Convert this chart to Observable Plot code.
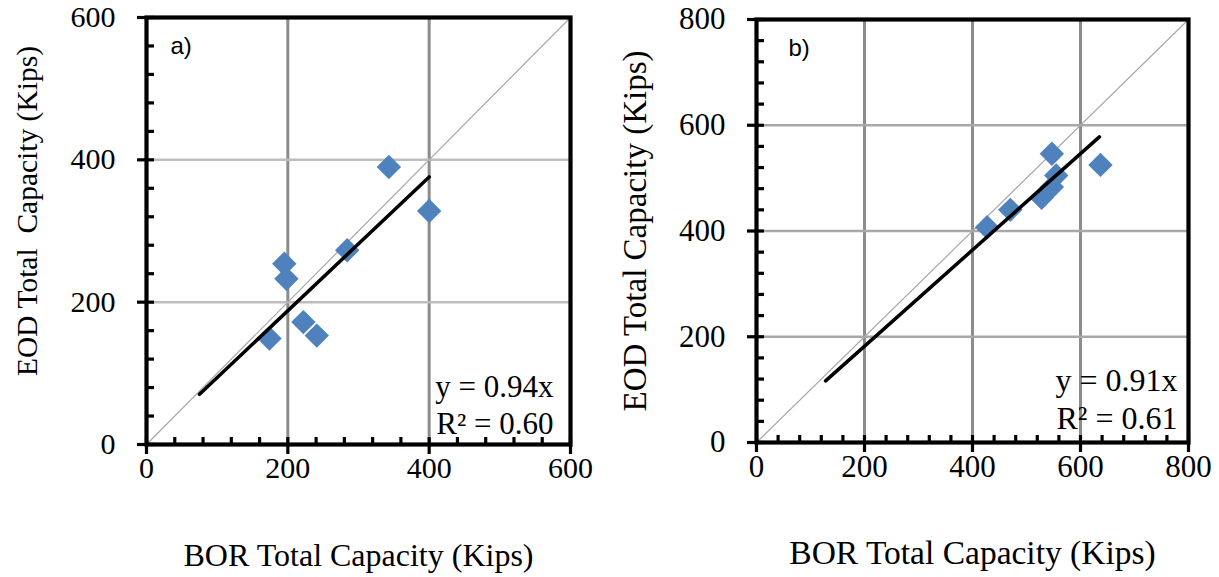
<!DOCTYPE html>
<html><head><meta charset="utf-8">
<script src="https://cdn.jsdelivr.net/npm/d3@7"></script>
<script src="https://cdn.jsdelivr.net/npm/@observablehq/plot@0.6"></script>
<style>
body{margin:0;background:#fff;}
#wrap{position:relative;width:1219px;height:577px;overflow:hidden;background:#fff;}
#a{position:absolute;left:0;top:0;}
#b{position:absolute;left:610px;top:0;}
g[aria-label$="tick label"], g[aria-label$="tick label"] text { font-family: 'Liberation Serif', 'Times New Roman', serif !important; font-variant: normal !important; }
</style></head><body><div id="wrap"><div id="a"></div><div id="b"></div></div>
<script>
// Panel a data
const borA = [343, 400, 284, 195, 198, 222, 241, 174];
const eodA = [390, 328, 273, 254, 233, 172, 153, 149];
const trendAx = [75, 400];
const trendAy = [70.5, 376];
const ticksA = [0, 200, 400, 600];
const minorA = [40, 80, 120, 160, 240, 280, 320, 360, 440, 480, 520, 560];
const gridA = [200, 400];
// Panel b data
const borB = [547, 637, 555, 547, 528, 470, 427];
const eodB = [546, 525, 505, 483, 463, 440, 407];
const trendBx = [128, 635];
const trendBy = [116.5, 578];
const ticksB = [0, 200, 400, 600, 800];
const minorB = [40, 80, 120, 160, 240, 280, 320, 360, 440, 480, 520, 560, 640, 680, 720, 760];
const gridB = [200, 400, 600];

const serif = "'Liberation Serif', 'Times New Roman', serif";
const sans = "'Liberation Sans', Arial, sans-serif";

function panel(o) {
  const fw = o.width - o.mL - o.mR, fh = o.height - o.mT - o.mB;
  const span = o.domain[1] - o.domain[0];
  const inX = span * 8 / fw, inY = span * 7 / fh; // inward tick length in data units
  const pts = o.xs.map((x, i) => ({x, y: o.ys[i]}));
  const trend = o.tx.map((x, i) => ({x, y: o.ty[i]}));
  const diag = [{x: o.domain[0], y: o.domain[0]}, {x: o.domain[1], y: o.domain[1]}];
  const allTicks = o.minor.concat(o.ticks);
  return Plot.plot({
    width: o.width, height: o.height,
    marginLeft: o.mL, marginRight: o.mR, marginTop: o.mT, marginBottom: o.mB,
    x: {domain: o.domain, label: null},
    y: {domain: o.domain, label: null},
    style: {fontFamily: serif, fontSize: o.tickFont + "px", color: "black", background: "white", overflow: "visible"},
    marks: [
      Plot.ruleX(o.grid, {x: d => d, stroke: "#8c8c8c", strokeWidth: 3}),
      Plot.ruleY(o.grid, {y: d => d, stroke: o.hGrid, strokeWidth: 2.5}),
      Plot.line(diag, {x: "x", y: "y", stroke: "#a8a8a8", strokeWidth: 1.2}),
      Plot.dot(pts, {x: "x", y: "y", symbol: "diamond2", r: 11, fill: "#4f81bd", stroke: "none"}),
      Plot.line(trend, {x: "x", y: "y", stroke: "black", strokeWidth: 3.5}),
      Plot.frame({stroke: "black", strokeWidth: 4.2}),
      Plot.ruleY(allTicks, {y: d => d, x1: o.domain[0], x2: o.domain[0] + inX, stroke: "black", strokeWidth: 3.2}),
      Plot.ruleX(allTicks, {x: d => d, y1: o.domain[0], y2: o.domain[0] + inY, stroke: "black", strokeWidth: 3.2}),
      Plot.axisY(o.ticks, {tickSize: 9, tickPadding: 22, strokeWidth: 3.2, fontSize: o.tickFont, fontFamily: serif, label: null}),
      Plot.axisX(o.ticks, {tickSize: 10, tickPadding: 2, strokeWidth: 3.2, fontSize: o.tickFont, fontFamily: serif, label: null}),
      Plot.text([o.tag], {frameAnchor: "top-left", dx: o.tagDx, dy: o.tagDy, textAnchor: "start", lineAnchor: "top", fontFamily: sans, fontSize: 24}),
      Plot.text([o.eq1], {frameAnchor: "bottom-right", dx: o.eqDx, dy: -o.eq1Up, textAnchor: "end", lineAnchor: "bottom", fontFamily: serif, fontSize: o.eqFont}),
      Plot.text([o.eq2], {frameAnchor: "bottom-right", dx: o.eqDx, dy: -o.eq2Up, textAnchor: "end", lineAnchor: "bottom", fontFamily: serif, fontSize: o.eqFont}),
      Plot.text([o.xTitle], {frameAnchor: "bottom", dx: o.xtDx, dy: o.xtDy, textAnchor: "middle", lineAnchor: "bottom", fontFamily: serif, fontSize: o.titleFont}),
      Plot.text([o.yTitle], {frameAnchor: "left", dx: o.ytDx, dy: o.ytDy, rotate: -90, textAnchor: "middle", lineAnchor: "middle", fontFamily: serif, fontSize: o.yTitleFont})
    ]
  });
}

document.getElementById("a").append(panel({
  width: 610, height: 577, mL: 146, mR: 40, mT: 17, mB: 133,
  domain: [0, 600], ticks: ticksA, minor: minorA, grid: gridA, hGrid: "#bdbdbd",
  xs: borA, ys: eodA, tx: trendAx, ty: trendAy,
  tag: "a)", tagDx: 24, tagDy: 19,
  eq1: "y = 0.94x", eq2: "R² = 0.60", eqDx: -17, eq1Up: 48, eq2Up: 11, eqFont: 31,
  xTitle: "BOR Total Capacity (Kips)", xtDx: 0, xtDy: 121, titleFont: 32,
  yTitle: "EOD Total  Capacity (Kips)", ytDx: -119, ytDy: -20, yTitleFont: 29.5,
  tickFont: 30
}));

document.getElementById("b").append(panel({
  width: 609, height: 577, mL: 146, mR: 31, mT: 19, mB: 135,
  domain: [0, 800], ticks: ticksB, minor: minorB, grid: gridB, hGrid: "#a8a8a8",
  xs: borB, ys: eodB, tx: trendBx, ty: trendBy,
  tag: "b)", tagDx: 32, tagDy: 19,
  eq1: "y = 0.91x", eq2: "R² = 0.61", eqDx: -11, eq1Up: 52, eq2Up: 14, eqFont: 32,
  xTitle: "BOR Total Capacity (Kips)", xtDx: 0, xtDy: 121, titleFont: 33.5,
  yTitle: "EOD Total Capacity (Kips)", ytDx: -121, ytDy: 0, yTitleFont: 33,
  tickFont: 31
}));
</script></body></html>
